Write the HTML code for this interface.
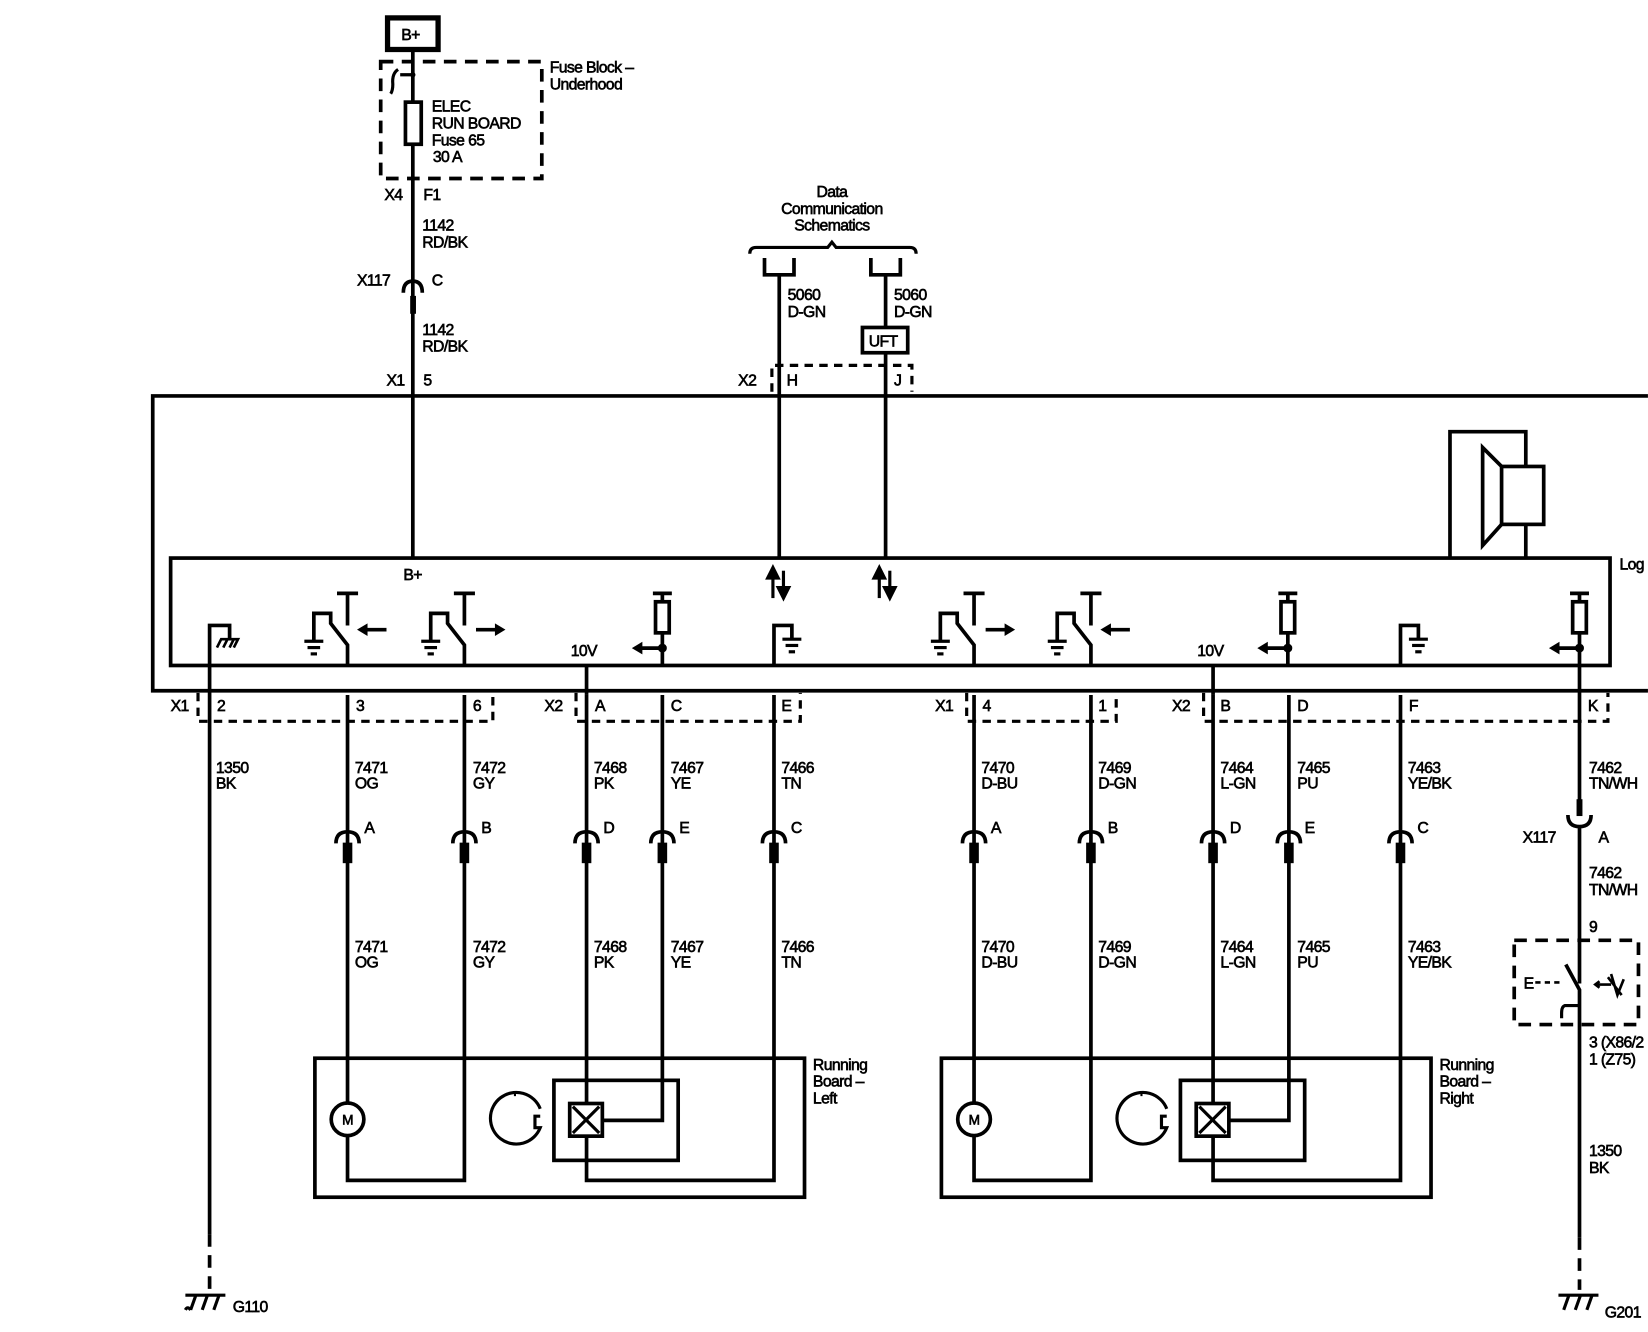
<!DOCTYPE html>
<html><head><meta charset="utf-8"><style>
html,body{margin:0;padding:0;background:#fff;}
svg{display:block}
text{font-family:"Liberation Sans",Arial,sans-serif;font-size:15px;fill:#000;stroke:#000;stroke-width:0.6px;letter-spacing:-0.6px}
</style></head><body>
<svg width="1648" height="1332" viewBox="0 0 1565 1265" xmlns="http://www.w3.org/2000/svg">
<defs>
<g id="gnd"><line x1="-9" y1="0" x2="9" y2="0" stroke="#000" stroke-width="3"/><line x1="-6" y1="6" x2="6" y2="6" stroke="#000" stroke-width="3"/><line x1="-3" y1="12" x2="3" y2="12" stroke="#000" stroke-width="3"/></g>
<g id="sw" fill="none" stroke="#000" stroke-width="3.5">
<path d="M0,633 V612.6 L-16,592 V582.5 H-32 V608"/>
<path d="M0,594 V563.5 M-10,563.5 H10"/>
<use href="#gnd" x="-32" y="609"/>
</g>
<g id="arl"><line x1="16" y1="598" x2="37" y2="598" stroke="#000" stroke-width="3.5"/><polygon points="9,598 19,592 19,604" fill="#000"/></g>
<g id="arr"><line x1="11" y1="598" x2="32" y2="598" stroke="#000" stroke-width="3.5"/><polygon points="39,598 29,592 29,604" fill="#000"/></g>
<g id="res" fill="none" stroke="#000" stroke-width="3.5">
<path d="M0,563.5 V571.5 M-9,563.5 H9"/>
<rect x="-6.5" y="571.5" width="13" height="29.5"/>
<path d="M0,601 V633 M0,615.5 H-20"/>
<circle cx="0" cy="615.5" r="2.5" fill="#000"/>
<polygon points="-29,615.5 -19,609.5 -19,621.5" fill="#000" stroke="none"/>
</g>
<g id="cn"><path d="M-11,801 Q-11,790 0,790 Q11,790 11,801" fill="none" stroke="#000" stroke-width="3.5"/><rect x="-2.8" y="802" width="5.6" height="16" fill="#000"/></g>
<g id="gr"><path d="M0,633 V594 H17 V606" fill="none" stroke="#000" stroke-width="3.5"/><use href="#gnd" x="17" y="607"/></g>
<g id="board" fill="none" stroke="#000" stroke-width="3.5">
<rect x="299" y="1005" width="465" height="132"/>
<path d="M330,660 V1047 M330,1078 V1121 H441 V660"/>
<circle cx="330" cy="1063" r="15.5"/>
<path d="M557,660 V1048 M557,1079 V1121 H735 V660"/>
<path d="M629,660 V1064 H571"/>
<rect x="526" y="1026" width="118" height="76"/>
<rect x="541" y="1048" width="31" height="31"/>
<path d="M544,1051 L569,1076 M569,1051 L544,1076" stroke-width="3"/>
<path d="M513,1053 A24.5,24.5 0 1 0 513,1071 H508 V1060 H513" stroke-width="3"/>
<line x1="489" y1="1037" x2="489" y2="1041" stroke-width="2"/>
<use href="#cn" x="330"/><use href="#cn" x="441"/><use href="#cn" x="557"/><use href="#cn" x="629"/><use href="#cn" x="735"/>
</g>
</defs>

<rect x="368" y="17" width="48" height="30" fill="none" stroke="#000" stroke-width="5"/>
<text x="381" y="38">B+</text>
<rect x="361.5" y="58.5" width="153" height="111" fill="none" stroke="#000" stroke-width="3.5" stroke-dasharray="12,8"/>
<g fill="none" stroke="#000" stroke-width="3.5">
<path d="M392,47 V530"/>
<path d="M392,71 H380 M378,66 Q372,70 373,80 Q373,86 371,89" stroke-width="3"/>
<rect x="385" y="97" width="15" height="40" fill="#fff"/>
<path d="M383,278 Q383,267 392,267 Q401,267 401,278"/>
</g>
<circle cx="392" cy="71" r="2.5"/>
<rect x="389.5" y="281" width="5.5" height="17"/>
<text x="522" y="69">Fuse Block –</text><text x="522" y="85">Underhood</text>
<text x="410" y="106">ELEC</text><text x="410" y="122">RUN BOARD</text><text x="410" y="138">Fuse 65</text><text x="411" y="154">30 A</text>
<text x="365" y="190">X4</text><text x="402" y="190">F1</text>
<text x="401" y="219">1142</text><text x="401" y="235">RD/BK</text>
<text x="339" y="271">X117</text><text x="410" y="271">C</text>
<text x="401" y="318">1142</text><text x="401" y="334">RD/BK</text>
<text x="367" y="366">X1</text><text x="402" y="366">5</text>

<text x="790" y="187" text-anchor="middle">Data</text>
<text x="790" y="203" text-anchor="middle">Communication</text>
<text x="790" y="219" text-anchor="middle">Schematics</text>
<g fill="none" stroke="#000" stroke-width="3">
<path d="M712,241 Q712,235 718,235 H786 L790,230 L794,235 H864 Q870,235 870,241"/>
</g>
<g fill="none" stroke="#000" stroke-width="3.5">
<path d="M726,245 V261 H754 V245 M740,261 V530"/>
<path d="M827,245 V261 H855 V245 M841,261 V311 M841,335 V530"/>
<rect x="819" y="311" width="43" height="24"/>
</g>
<text x="825" y="329">UFT</text>
<text x="748" y="285">5060</text><text x="748" y="301">D-GN</text>
<text x="849" y="285">5060</text><text x="849" y="301">D-GN</text>
<path d="M733,372 V347 H866 V372" fill="none" stroke="#000" stroke-width="3" stroke-dasharray="8,6"/>
<text x="701" y="366">X2</text><text x="747" y="366">H</text><text x="849" y="366">J</text>

<g fill="none" stroke="#000" stroke-width="3.5">
<path d="M1565,376 H145 V656 H1565"/>
<rect x="162" y="530" width="1367" height="102"/>
<path d="M1377,530 V410 H1449 V443 M1449,498 V530"/>
<rect x="1426" y="443" width="40" height="55"/>
<path d="M1426,443 L1408,425 V518 L1426,498"/>
</g>
<text x="1538" y="541">Log</text>
<text x="383" y="551">B+</text>
<g stroke="#000" stroke-width="3" fill="#000">
<line x1="734" y1="548" x2="734" y2="568"/><polygon points="734,539 729,549 739,549"/>
<line x1="744" y1="542" x2="744" y2="560"/><polygon points="744,568 739,558 749,558"/>
<line x1="835" y1="548" x2="835" y2="568"/><polygon points="835,539 830,549 840,549"/>
<line x1="845" y1="542" x2="845" y2="560"/><polygon points="845,568 840,558 850,558"/>
</g>
<path d="M199,1172 V594 H218 V606" fill="none" stroke="#000" stroke-width="3.5"/>
<path d="M206,615 L210,607 H226 L222,615 M212,615 L216,607 M218,615 L222,607" fill="none" stroke="#000" stroke-width="2.5"/>
<path d="M199,1172 V1225" fill="none" stroke="#000" stroke-width="3.5" stroke-dasharray="12,8"/>

<use href="#sw" x="330"/><use href="#arl" x="330"/>
<use href="#sw" x="441"/><use href="#arr" x="441"/>
<use href="#res" x="629"/>
<use href="#gr" x="735"/>
<use href="#sw" x="925"/><use href="#arr" x="925"/>
<use href="#sw" x="1036"/><use href="#arl" x="1036"/>
<use href="#res" x="1223"/>
<use href="#gr" x="1330"/>
<use href="#res" x="1500"/>
<text x="542" y="623">10V</text><text x="1137" y="623">10V</text>

<g fill="none" stroke="#000" stroke-width="3" stroke-dasharray="8,6">
<path d="M188,658 V685 H468 V658"/>
<path d="M547,658 V685 H760 V658"/>
<path d="M918,658 V685 H1060 V658"/>
<path d="M1143,658 V685 H1527 V658"/>
</g>
<g>
<text x="162" y="675">X1</text><text x="206" y="675">2</text><text x="338" y="675">3</text><text x="449" y="675">6</text>
<text x="517" y="675">X2</text><text x="565" y="675">A</text><text x="637" y="675">C</text><text x="742" y="675">E</text>
<text x="888" y="675">X1</text><text x="933" y="675">4</text><text x="1043" y="675">1</text>
<text x="1113" y="675">X2</text><text x="1159" y="675">B</text><text x="1232" y="675">D</text><text x="1338" y="675">F</text><text x="1508" y="675">K</text>
</g>
<g fill="none" stroke="#000" stroke-width="3.5">
<path d="M557,632 V660"/><path d="M1152,632 V660"/>
<path d="M1500,633 V760"/>
</g>
<g>
<text x="205" y="734">1350</text><text x="205" y="749">BK</text>
<text x="337" y="734">7471</text><text x="337" y="749">OG</text>
<text x="449" y="734">7472</text><text x="449" y="749">GY</text>
<text x="564" y="734">7468</text><text x="564" y="749">PK</text>
<text x="637" y="734">7467</text><text x="637" y="749">YE</text>
<text x="742" y="734">7466</text><text x="742" y="749">TN</text>
<text x="932" y="734">7470</text><text x="932" y="749">D-BU</text>
<text x="1043" y="734">7469</text><text x="1043" y="749">D-GN</text>
<text x="1159" y="734">7464</text><text x="1159" y="749">L-GN</text>
<text x="1232" y="734">7465</text><text x="1232" y="749">PU</text>
<text x="1337" y="734">7463</text><text x="1337" y="749">YE/BK</text>
<text x="1509" y="734">7462</text><text x="1509" y="749">TN/WH</text>
</g>
<g>
<text x="346" y="791">A</text><text x="457" y="791">B</text><text x="573" y="791">D</text><text x="645" y="791">E</text><text x="751" y="791">C</text>
<text x="941" y="791">A</text><text x="1052" y="791">B</text><text x="1168" y="791">D</text><text x="1239" y="791">E</text><text x="1346" y="791">C</text>
</g>
<g>
<text x="337" y="904">7471</text><text x="337" y="919">OG</text>
<text x="449" y="904">7472</text><text x="449" y="919">GY</text>
<text x="564" y="904">7468</text><text x="564" y="919">PK</text>
<text x="637" y="904">7467</text><text x="637" y="919">YE</text>
<text x="742" y="904">7466</text><text x="742" y="919">TN</text>
<text x="932" y="904">7470</text><text x="932" y="919">D-BU</text>
<text x="1043" y="904">7469</text><text x="1043" y="919">D-GN</text>
<text x="1159" y="904">7464</text><text x="1159" y="919">L-GN</text>
<text x="1232" y="904">7465</text><text x="1232" y="919">PU</text>
<text x="1337" y="904">7463</text><text x="1337" y="919">YE/BK</text>
</g>
<use href="#board"/>
<use href="#board" x="595"/>
<text x="330" y="1068" text-anchor="middle" style="font-size:13px">M</text>
<text x="925" y="1068" text-anchor="middle" style="font-size:13px">M</text>
<text x="772" y="1016">Running</text><text x="772" y="1032">Board –</text><text x="772" y="1048">Left</text>
<text x="1367" y="1016">Running</text><text x="1367" y="1032">Board –</text><text x="1367" y="1048">Right</text>

<rect x="1497.2" y="759" width="5.6" height="16" fill="#000"/>
<path d="M1489,774 Q1489,785 1500,785 Q1511,785 1511,774" fill="none" stroke="#000" stroke-width="3.5"/>
<g fill="none" stroke="#000" stroke-width="3.5">
<path d="M1500,785 V934 M1487,916 L1500,940 V1175"/>
<path d="M1500,955 H1486 Q1483,956 1483,962 V967" stroke-width="3"/>
</g>
<path d="M1500,1175 V1225" fill="none" stroke="#000" stroke-width="3.5" stroke-dasharray="12,8"/>
<rect x="1438" y="893" width="118" height="80" fill="none" stroke="#000" stroke-width="3.5" stroke-dasharray="12,8"/>
<text x="1447" y="939">E</text>
<path d="M1458,933 H1482" stroke="#000" stroke-width="2.5" stroke-dasharray="5,4"/>
<path d="M1517,935 H1530 M1519,932 L1515,935 L1519,938 M1527,928 L1540,945 M1530,925 L1536,945 L1542,930" fill="none" stroke="#000" stroke-width="2.5"/>
<text x="1446" y="800">X117</text><text x="1518" y="800">A</text>
<text x="1509" y="834">7462</text><text x="1509" y="850">TN/WH</text>
<text x="1509" y="885">9</text>
<text x="1509" y="995">3 (X86/2</text><text x="1509" y="1011">1 (Z75)</text>
<text x="1509" y="1098">1350</text><text x="1509" y="1114">BK</text>

<g fill="none" stroke="#000" stroke-width="3">
<path d="M176,1230 H214 M181,1244 L186,1230 M192,1244 L197,1230 M203,1244 L208,1230 M176,1244 Q178,1240 181,1244"/>
<path d="M1480,1230 H1518 M1485,1244 L1490,1230 M1496,1244 L1501,1230 M1507,1244 L1512,1230"/>
</g>
<text x="221" y="1246">G110</text>
<text x="1524" y="1251">G201</text>
</svg>
</body></html>
